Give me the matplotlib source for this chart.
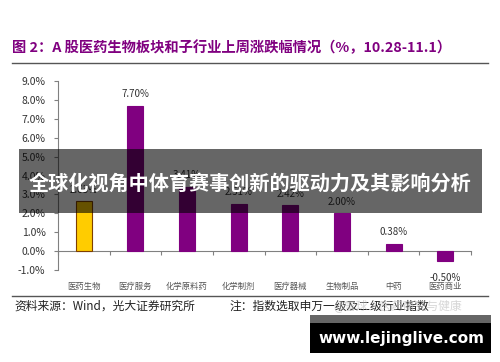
import numpy as np
import matplotlib.pyplot as plt
from matplotlib.patches import Rectangle
from matplotlib.transforms import blended_transform_factory

plt.rcParams['font.family'] = ['Noto Sans CJK SC', 'DejaVu Sans']

# data
categories = ['医药生物', '医疗服务', '化学原料药', '化学制剂', '医疗器械', '生物制品', '中药', '医药商业']
values = [2.63, 7.70, 3.41, 2.51, 2.42, 2.00, 0.38, -0.50]
bar_colors = ['#FFCC00'] + ['#800080'] * 7
edge_colors = ['#7F3F00'] + ['#800080'] * 7
yticks = np.arange(-1, 10, 1)

W, H = 500, 362
fig = plt.figure(figsize=(W / 100, H / 100), dpi=100)

def fx(px):
    return px / W

def fy(py):
    return 1 - py / H

# title and rules
fig.text(fx(12), fy(48), '图 2：A 股医药生物板块和子行业上周涨跌幅情况（%，10.28-11.1）',
         color='#800080', fontsize=10.3, fontweight='bold', va='center', ha='left')
fig.add_artist(plt.Line2D([fx(12), fx(488)], [fy(63), fy(63)], color='#555555', lw=1))
fig.add_artist(plt.Line2D([fx(12), fx(488)], [fy(296), fy(296)], color='#555555', lw=1))

# chart
ax = fig.add_axes([fx(58), fy(270), fx(471) - fx(58), fy(81) - fy(270)])
x = np.arange(len(categories))
ax.bar(x, values, width=0.31, color=bar_colors, edgecolor=edge_colors, linewidth=0.8, zorder=3)

for xi, v in zip(x, values):
    if v >= 0:
        ax.text(xi, v + 0.35, f'{v:.2f}%', ha='center', va='bottom', fontsize=7, color='#333333')
    else:
        ax.text(xi, v - 0.65, f'{v:.2f}%', ha='center', va='top', fontsize=7, color='#333333')

ax.set_xlim(-0.5, len(categories) - 0.5)
ax.set_ylim(-1, 9)
ax.set_yticks(yticks)
ax.set_yticklabels([f'{t:.1f}%' for t in yticks], fontsize=7.5, color='#333333')
ax.set_xticks(np.arange(-0.5, len(categories), 1))
ax.set_xticklabels([])
for s in ['top', 'right']:
    ax.spines[s].set_visible(False)
ax.spines['bottom'].set_position(('data', 0))
ax.spines['bottom'].set_color('#808080')
ax.spines['left'].set_color('#808080')
ax.tick_params(axis='x', direction='out', length=3, color='#808080')
ax.tick_params(axis='y', direction='out', length=3, color='#808080', pad=6)

trans = blended_transform_factory(ax.transData, fig.transFigure)
for xi, c in zip(x, categories):
    ax.text(xi, fy(286), c, transform=trans, ha='center', va='center', fontsize=6, color='#555555')

# source note
fig.text(fx(14), fy(306), '资料来源：Wind，光大证券研究所', fontsize=8.5, color='#222222',
         va='center', ha='left')
fig.text(fx(229), fy(306), '注：指数选取申万一级及二级行业指数', fontsize=8.5, color='#222222',
         va='center', ha='left')
fig.text(fx(333), fy(306), '@雪球·医药研究与健康', fontsize=8.5, color='#bbbbbb', alpha=0.6,
         va='center', ha='left')

# overlay banner
fig.add_artist(Rectangle((fx(19), fy(213)), fx(482) - fx(19), fy(149) - fy(213),
                         transform=fig.transFigure, facecolor='black', alpha=0.6, lw=0, zorder=10))
fig.text(0.5, fy(183), '全球化视角中体育赛事创新的驱动力及其影响分析', color='white',
         fontsize=14.5, fontweight='bold', ha='center', va='center', zorder=11)

# watermark box
fig.add_artist(Rectangle((fx(310), fy(323)), fx(491) - fx(310), fy(315) - fy(323),
                         transform=fig.transFigure, facecolor='#666666', lw=0, zorder=10))
fig.add_artist(Rectangle((fx(310), fy(353)), fx(491) - fx(310), fy(323) - fy(353),
                         transform=fig.transFigure, facecolor='black', lw=0, zorder=10))
fig.text(fx(401), fy(338), 'www.lejinglive.com', color='white', fontsize=11,
         fontweight='bold', ha='center', va='center', zorder=11, family='DejaVu Sans')

fig.savefig('out.png', dpi=100)
